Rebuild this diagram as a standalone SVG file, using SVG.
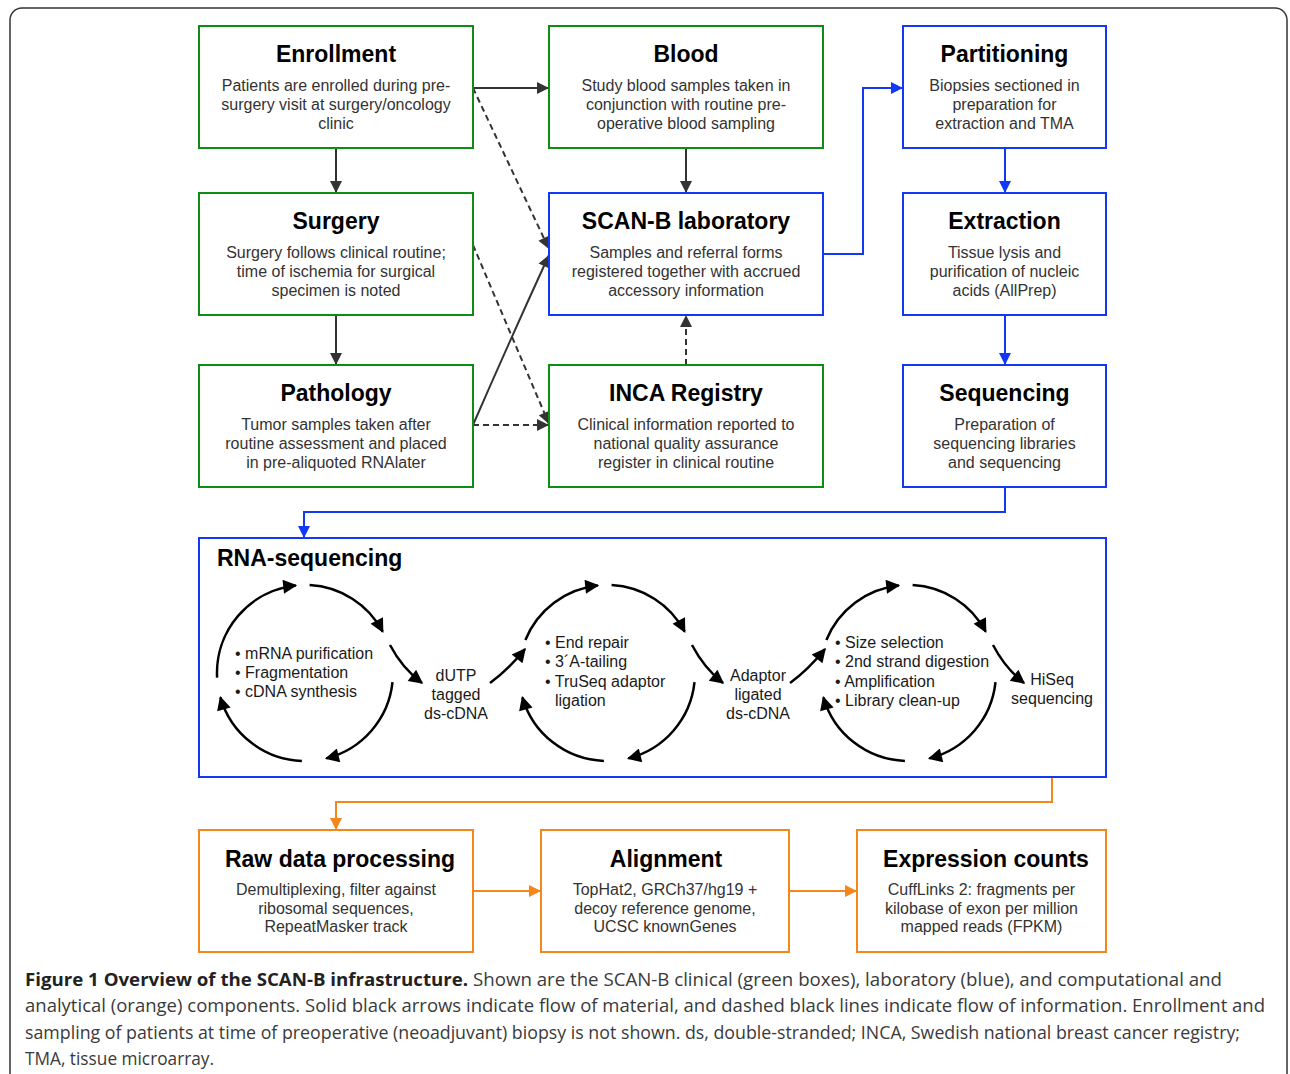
<svg xmlns="http://www.w3.org/2000/svg" width="1290" height="1074" viewBox="0 0 1290 1074">
<style>
.box{fill:#fff;stroke-width:2}
.g{stroke:#0e8c14}
.b{stroke:#1238f5}
.o{stroke:#f5861c}
.t{font-family:"Liberation Sans",Arial,sans-serif;font-size:23px;font-weight:bold;fill:#000;text-anchor:middle}
.d{font-family:"Liberation Sans",Arial,sans-serif;font-size:16px;fill:#333;text-anchor:middle}
.c{font-family:"Liberation Sans",Arial,sans-serif;font-size:16px;fill:#1a1a1a}
.cm{font-family:"Liberation Sans",Arial,sans-serif;font-size:16px;fill:#1a1a1a;text-anchor:middle}
.k{fill:none;stroke:#333;stroke-width:2}
.kd{fill:none;stroke:#333;stroke-width:2;stroke-dasharray:6 4}
.bl{fill:none;stroke:#1238f5;stroke-width:2}
.or{fill:none;stroke:#f5861c;stroke-width:2}
.arc{fill:none;stroke:#000;stroke-width:2.5}
.cap{font-family:"Open Sans","Noto Sans",sans-serif;font-size:18px;fill:#3a3a3a}
</style>
<defs>
<marker id="ak" viewBox="0 0 10 10" refX="10" refY="5" markerWidth="13" markerHeight="12" markerUnits="userSpaceOnUse" orient="auto"><path d="M0,0 L10,5 L0,10 z" fill="#333"/></marker>
<marker id="ab" viewBox="0 0 10 10" refX="10" refY="5" markerWidth="13" markerHeight="12" markerUnits="userSpaceOnUse" orient="auto"><path d="M0,0 L10,5 L0,10 z" fill="#1238f5"/></marker>
<marker id="ao" viewBox="0 0 10 10" refX="10" refY="5" markerWidth="13" markerHeight="12" markerUnits="userSpaceOnUse" orient="auto"><path d="M0,0 L10,5 L0,10 z" fill="#f5861c"/></marker>
<marker id="ac" viewBox="0 0 10 10" refX="9" refY="5" markerWidth="16" markerHeight="14" markerUnits="userSpaceOnUse" orient="auto"><path d="M0,0 L10,5 L0,10 z" fill="#000"/></marker>
</defs>
<rect x="0" y="0" width="1290" height="1074" fill="#fff"/>
<rect x="10" y="8" width="1277" height="1100" rx="12" fill="none" stroke="#333" stroke-width="1.5"/>

<g id="connectors">
<path class="k" d="M336,148 V193" marker-end="url(#ak)"/>
<path class="k" d="M336,315 V365" marker-end="url(#ak)"/>
<path class="k" d="M473,88 H549" marker-end="url(#ak)"/>
<path class="kd" d="M473,88 L549,249" marker-end="url(#ak)"/>
<path class="kd" d="M473,245 L549,424" marker-end="url(#ak)"/>
<path class="k" d="M473,425 Q510,340 549,255" marker-end="url(#ak)"/>
<path class="kd" d="M473,425 H549" marker-end="url(#ak)"/>
<path class="k" d="M686,148 V193" marker-end="url(#ak)"/>
<path class="kd" d="M686,365 V315" marker-end="url(#ak)"/>
<path class="bl" d="M823,254 H863 V88 H903" marker-end="url(#ab)"/>
<path class="bl" d="M1005,148 V193" marker-end="url(#ab)"/>
<path class="bl" d="M1005,315 V365" marker-end="url(#ab)"/>
<path class="bl" d="M1005,487 V512 H304 V538" marker-end="url(#ab)"/>
<path class="or" d="M1052,777 V802 H336 V830" marker-end="url(#ao)"/>
<path class="or" d="M473,891 H541" marker-end="url(#ao)"/>
<path class="or" d="M789,891 H857" marker-end="url(#ao)"/>
</g>

<g id="enrollment">
<rect class="box g" x="199" y="26" width="274" height="122"/>
<text class="t" x="336" y="62">Enrollment</text>
<text class="d" x="336" y="91">Patients are enrolled during pre-</text>
<text class="d" x="336" y="110">surgery visit at surgery/oncology</text>
<text class="d" x="336" y="129">clinic</text>
</g>
<g id="blood">
<rect class="box g" x="549" y="26" width="274" height="122"/>
<text class="t" x="686" y="62">Blood</text>
<text class="d" x="686" y="91">Study blood samples taken in</text>
<text class="d" x="686" y="110">conjunction with routine pre-</text>
<text class="d" x="686" y="129">operative blood sampling</text>
</g>
<g id="partitioning">
<rect class="box b" x="903" y="26" width="203" height="122"/>
<text class="t" x="1004.5" y="62">Partitioning</text>
<text class="d" x="1004.5" y="91">Biopsies sectioned in</text>
<text class="d" x="1004.5" y="110">preparation for</text>
<text class="d" x="1004.5" y="129">extraction and TMA</text>
</g>
<g id="surgery">
<rect class="box g" x="199" y="193" width="274" height="122"/>
<text class="t" x="336" y="229">Surgery</text>
<text class="d" x="336" y="258">Surgery follows clinical routine;</text>
<text class="d" x="336" y="277">time of ischemia for surgical</text>
<text class="d" x="336" y="296">specimen is noted</text>
</g>
<g id="scanb">
<rect class="box b" x="549" y="193" width="274" height="122"/>
<text class="t" x="686" y="229">SCAN-B laboratory</text>
<text class="d" x="686" y="258">Samples and referral forms</text>
<text class="d" x="686" y="277">registered together with accrued</text>
<text class="d" x="686" y="296">accessory information</text>
</g>
<g id="extraction">
<rect class="box b" x="903" y="193" width="203" height="122"/>
<text class="t" x="1004.5" y="229">Extraction</text>
<text class="d" x="1004.5" y="258">Tissue lysis and</text>
<text class="d" x="1004.5" y="277">purification of nucleic</text>
<text class="d" x="1004.5" y="296">acids (AllPrep)</text>
</g>
<g id="pathology">
<rect class="box g" x="199" y="365" width="274" height="122"/>
<text class="t" x="336" y="401">Pathology</text>
<text class="d" x="336" y="430">Tumor samples taken after</text>
<text class="d" x="336" y="449">routine assessment and placed</text>
<text class="d" x="336" y="468">in pre-aliquoted RNAlater</text>
</g>
<g id="inca">
<rect class="box g" x="549" y="365" width="274" height="122"/>
<text class="t" x="686" y="401">INCA Registry</text>
<text class="d" x="686" y="430">Clinical information reported to</text>
<text class="d" x="686" y="449">national quality assurance</text>
<text class="d" x="686" y="468">register in clinical routine</text>
</g>
<g id="sequencing">
<rect class="box b" x="903" y="365" width="203" height="122"/>
<text class="t" x="1004.5" y="401">Sequencing</text>
<text class="d" x="1004.5" y="430">Preparation of</text>
<text class="d" x="1004.5" y="449">sequencing libraries</text>
<text class="d" x="1004.5" y="468">and sequencing</text>
</g>

<g id="rnaseq">
<rect class="box b" x="199" y="538" width="907" height="239"/>
<text class="t" x="217" y="566" style="text-anchor:start">RNA-sequencing</text>
<g id="cycle1">
<path class="arc" d="M217.1,677.6 A88,88 0 0 1 295.8,585.5" marker-end="url(#ac)"/>
<path class="arc" d="M309.6,585.1 A88,88 0 0 1 382.7,631.7" marker-end="url(#ac)"/>
<path class="arc" d="M392.5,682.2 A88,88 0 0 1 326.3,758.4" marker-end="url(#ac)"/>
<path class="arc" d="M301.9,760.9 A88,88 0 0 1 220.4,697.3" marker-end="url(#ac)"/>
<text class="c" x="235" y="659">• mRNA purification</text>
<text class="c" x="235" y="678">• Fragmentation</text>
<text class="c" x="235" y="697">• cDNA synthesis</text>
</g>
<path class="arc" d="M390,645 Q402,668 422,683" marker-end="url(#ac)"/>
<text class="cm" x="456" y="681">dUTP</text>
<text class="cm" x="456" y="700">tagged</text>
<text class="cm" x="456" y="719">ds-cDNA</text>
<path class="arc" d="M490,683 Q508,670 525,649" marker-end="url(#ac)"/>
<g id="cycle2">
<path class="arc" d="M525.4,640 A88,88 0 0 1 597.8,585.5" marker-end="url(#ac)"/>
<path class="arc" d="M611.6,585.1 A88,88 0 0 1 684.7,631.7" marker-end="url(#ac)"/>
<path class="arc" d="M694.5,682.2 A88,88 0 0 1 628.3,758.4" marker-end="url(#ac)"/>
<path class="arc" d="M603.9,760.9 A88,88 0 0 1 522.4,697.3" marker-end="url(#ac)"/>
<text class="c" x="545" y="648">• End repair</text>
<text class="c" x="545" y="667">• 3´A-tailing</text>
<text class="c" x="545" y="687">• TruSeq adaptor</text>
<text class="c" x="555" y="706">ligation</text>
</g>
<path class="arc" d="M692,645 Q704,668 723,683" marker-end="url(#ac)"/>
<text class="cm" x="758" y="681">Adaptor</text>
<text class="cm" x="758" y="700">ligated</text>
<text class="cm" x="758" y="719">ds-cDNA</text>
<path class="arc" d="M790,683 Q808,670 825,649" marker-end="url(#ac)"/>
<g id="cycle3">
<path class="arc" d="M826.4,640 A88,88 0 0 1 898.8,585.5" marker-end="url(#ac)"/>
<path class="arc" d="M912.6,585.1 A88,88 0 0 1 985.7,631.7" marker-end="url(#ac)"/>
<path class="arc" d="M995.5,682.2 A88,88 0 0 1 929.3,758.4" marker-end="url(#ac)"/>
<path class="arc" d="M904.9,760.9 A88,88 0 0 1 823.4,697.3" marker-end="url(#ac)"/>
<text class="c" x="835" y="648">• Size selection</text>
<text class="c" x="835" y="667">• 2nd strand digestion</text>
<text class="c" x="835" y="687">• Amplification</text>
<text class="c" x="835" y="706">• Library clean-up</text>
</g>
<path class="arc" d="M993,645 Q1005,668 1024,683" marker-end="url(#ac)"/>
<text class="cm" x="1052" y="685">HiSeq</text>
<text class="cm" x="1052" y="704">sequencing</text>
</g>

<g id="rawdata">
<rect class="box o" x="199" y="830" width="274" height="122"/>
<text class="t" x="340" y="867">Raw data processing</text>
<text class="d" x="336" y="895">Demultiplexing, filter against</text>
<text class="d" x="336" y="914">ribosomal sequences,</text>
<text class="d" x="336" y="932">RepeatMasker track</text>
</g>
<g id="alignment">
<rect class="box o" x="541" y="830" width="248" height="122"/>
<text class="t" x="666" y="867">Alignment</text>
<text class="d" x="665" y="895">TopHat2, GRCh37/hg19 +</text>
<text class="d" x="665" y="914">decoy reference genome,</text>
<text class="d" x="665" y="932">UCSC knownGenes</text>
</g>
<g id="expression">
<rect class="box o" x="857" y="830" width="249" height="122"/>
<text class="t" x="986" y="867">Expression counts</text>
<text class="d" x="981.5" y="895">CuffLinks 2: fragments per</text>
<text class="d" x="981.5" y="914">kilobase of exon per million</text>
<text class="d" x="981.5" y="932">mapped reads (FPKM)</text>
</g>

<g id="caption">
<text class="cap" x="25" y="986" textLength="1197" lengthAdjust="spacingAndGlyphs"><tspan font-weight="bold" fill="#222">Figure 1 Overview of the SCAN-B infrastructure.</tspan> Shown are the SCAN-B clinical (green boxes), laboratory (blue), and computational and</text>
<text class="cap" x="25" y="1012" textLength="1240" lengthAdjust="spacingAndGlyphs">analytical (orange) components. Solid black arrows indicate flow of material, and dashed black lines indicate flow of information. Enrollment and</text>
<text class="cap" x="25" y="1039" textLength="1215" lengthAdjust="spacingAndGlyphs">sampling of patients at time of preoperative (neoadjuvant) biopsy is not shown. ds, double-stranded; INCA, Swedish national breast cancer registry;</text>
<text class="cap" x="25" y="1065" textLength="189" lengthAdjust="spacingAndGlyphs">TMA, tissue microarray.</text>
</g>
</svg>
